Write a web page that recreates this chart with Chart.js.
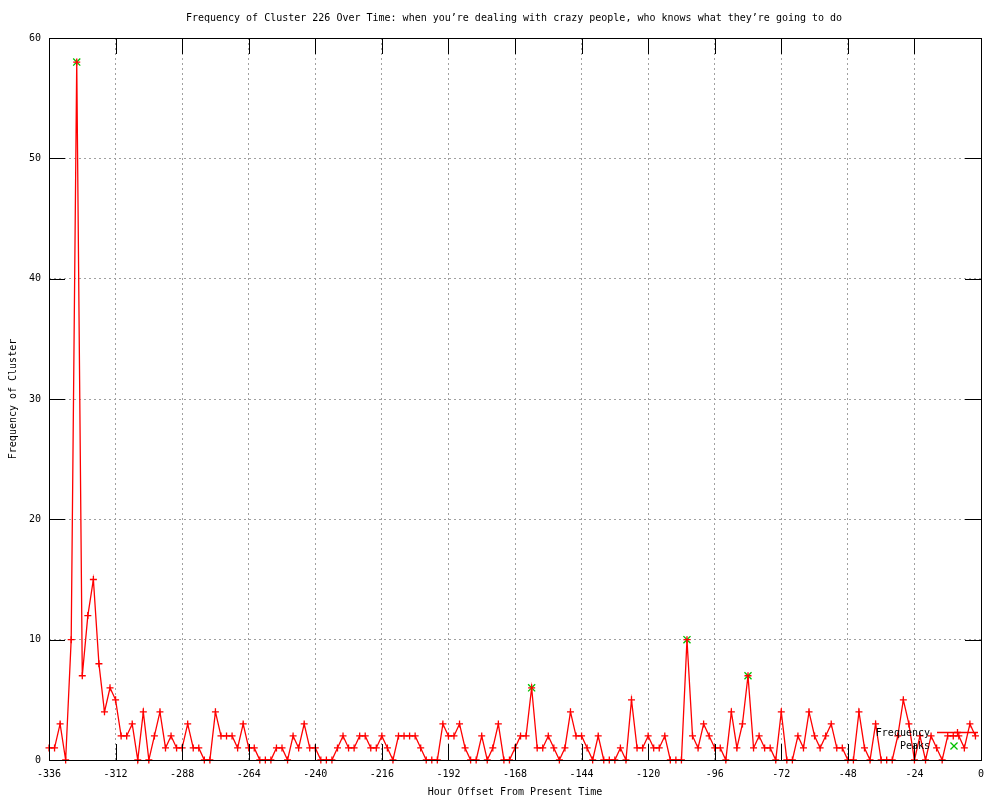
<!DOCTYPE html>
<html>
<head>
<meta charset="utf-8">
<title>Frequency of Cluster 226 Over Time</title>
<script src="https://cdn.jsdelivr.net/npm/chart.js@4.4.1/dist/chart.umd.min.js"></script>
<style>
  html, body { margin: 0; padding: 0; background: #fff; }
  #chart { display: block; }
</style>
</head>
<body>
<canvas id="chart" width="1000" height="800"></canvas>
<script>
// one sample every 2 hours, counted back from now
const hours = [
  -336, -334, -332, -330, -328, -326, -324, -322, -320, -318,
  -316, -314, -312, -310, -308, -306, -304, -302, -300, -298,
  -296, -294, -292, -290, -288, -286, -284, -282, -280, -278,
  -276, -274, -272, -270, -268, -266, -264, -262, -260, -258,
  -256, -254, -252, -250, -248, -246, -244, -242, -240, -238,
  -236, -234, -232, -230, -228, -226, -224, -222, -220, -218,
  -216, -214, -212, -210, -208, -206, -204, -202, -200, -198,
  -196, -194, -192, -190, -188, -186, -184, -182, -180, -178,
  -176, -174, -172, -170, -168, -166, -164, -162, -160, -158,
  -156, -154, -152, -150, -148, -146, -144, -142, -140, -138,
  -136, -134, -132, -130, -128, -126, -124, -122, -120, -118,
  -116, -114, -112, -110, -108, -106, -104, -102, -100, -98,
  -96, -94, -92, -90, -88, -86, -84, -82, -80, -78,
  -76, -74, -72, -70, -68, -66, -64, -62, -60, -58,
  -56, -54, -52, -50, -48, -46, -44, -42, -40, -38,
  -36, -34, -32, -30, -28, -26, -24, -22, -20, -18,
  -16, -14, -12, -10, -8, -6, -4, -2
];

const frequency = [
  1, 1, 3, 0, 10, 58, 7, 12, 15, 8,
  4, 6, 5, 2, 2, 3, 0, 4, 0, 2,
  4, 1, 2, 1, 1, 3, 1, 1, 0, 0,
  4, 2, 2, 2, 1, 3, 1, 1, 0, 0,
  0, 1, 1, 0, 2, 1, 3, 1, 1, 0,
  0, 0, 1, 2, 1, 1, 2, 2, 1, 1,
  2, 1, 0, 2, 2, 2, 2, 1, 0, 0,
  0, 3, 2, 2, 3, 1, 0, 0, 2, 0,
  1, 3, 0, 0, 1, 2, 2, 6, 1, 1,
  2, 1, 0, 1, 4, 2, 2, 1, 0, 2,
  0, 0, 0, 1, 0, 5, 1, 1, 2, 1,
  1, 2, 0, 0, 0, 10, 2, 1, 3, 2,
  1, 1, 0, 4, 1, 3, 7, 1, 2, 1,
  1, 0, 4, 0, 0, 2, 1, 4, 2, 1,
  2, 3, 1, 1, 0, 0, 4, 1, 0, 3,
  0, 0, 0, 2, 5, 3, 0, 2, 0, 2,
  1, 0, 2, 2, 2, 1, 3, 2
];

const peakHours = [-326, -162, -106, -84];
const peakValues = [58, 6, 10, 7];

const TITLE = 'Frequency of Cluster 226 Over Time: when you\u2019re dealing with crazy people, who knows what they\u2019re going to do';
const RED = '#ff0000';
const GREEN = '#00c000';
const MONO = '"DejaVu Sans Mono", "Liberation Mono", monospace';
const TIC = 16;

Chart.defaults.font.family = MONO;
Chart.defaults.font.size = 10;
Chart.defaults.color = '#000';

// gnuplot look: frame, inward tics on all four sides, title, legend inside
const gnuplotDecor = {
  id: 'gnuplotDecor',
  afterDatasetsDraw(chart) {
    const { ctx, chartArea: a, scales: { x, y } } = chart;
    ctx.save();
    ctx.strokeStyle = '#000';
    ctx.lineWidth = 1;
    ctx.beginPath();
    x.ticks.forEach(t => {
      const px = Math.round(x.getPixelForValue(t.value)) + 0.5;
      ctx.moveTo(px, a.bottom); ctx.lineTo(px, a.bottom - TIC);
      ctx.moveTo(px, a.top); ctx.lineTo(px, a.top + TIC);
    });
    y.ticks.forEach(t => {
      const py = Math.round(y.getPixelForValue(t.value)) + 0.5;
      ctx.moveTo(a.left, py); ctx.lineTo(a.left + TIC, py);
      ctx.moveTo(a.right, py); ctx.lineTo(a.right - TIC, py);
    });
    ctx.stroke();
    ctx.strokeRect(a.left + 0.5, a.top + 0.5, a.right - a.left, a.bottom - a.top);
    ctx.restore();
  },
  afterDraw(chart) {
    const ctx = chart.ctx;
    ctx.save();
    ctx.fillStyle = '#000';
    ctx.font = '10px ' + MONO;
    ctx.textBaseline = 'middle';
    ctx.textAlign = 'center';
    ctx.fillText(TITLE, 514, 18);

    // key
    ctx.textAlign = 'right';
    ctx.fillText('Frequency', 930, 733);
    ctx.fillText('Peaks', 930, 746);
    ctx.strokeStyle = RED;
    ctx.lineWidth = 1.3;
    ctx.beginPath();
    ctx.moveTo(937, 732.5);
    ctx.lineTo(978, 732.5);
    ctx.stroke();
    Chart.helpers.drawPoint(ctx, { pointStyle: 'cross', radius: 3.5, borderWidth: 1.3, rotation: 0 }, 957.5, 732.5);
    ctx.strokeStyle = GREEN;
    Chart.helpers.drawPoint(ctx, { pointStyle: 'crossRot', radius: 5, borderWidth: 1.3, rotation: 0 }, 954, 746);
    ctx.restore();
  }
};

new Chart(document.getElementById('chart'), {
  type: 'line',
  data: {
    datasets: [
      {
        label: 'Frequency',
        data: hours.map((h, i) => ({ x: h, y: frequency[i] })),
        borderColor: RED,
        borderWidth: 1.3,
        tension: 0,
        fill: false,
        clip: false,
        pointStyle: 'cross',
        pointRadius: 3.5,
        pointBorderColor: RED,
        pointBorderWidth: 1.3
      },
      {
        label: 'Peaks',
        data: peakHours.map((h, i) => ({ x: h, y: peakValues[i] })),
        showLine: false,
        borderColor: GREEN,
        clip: false,
        pointStyle: 'crossRot',
        pointRadius: 5,
        pointBorderColor: GREEN,
        pointBorderWidth: 1.3
      }
    ]
  },
  options: {
    responsive: false,
    animation: false,
    events: [],
    layout: { padding: { top: 38, right: 19, left: 0, bottom: 0 } },
    plugins: {
      legend: { display: false },
      tooltip: { enabled: false },
      title: { display: false }
    },
    scales: {
      x: {
        type: 'linear',
        min: -336,
        max: 0,
        ticks: { stepSize: 24, autoSkip: false, maxRotation: 0, padding: 8 },
        grid: { color: '#a0a0a0', lineWidth: 1, drawTicks: false },
        border: { display: false, dash: [2, 3] },
        title: { display: true, text: 'Hour Offset From Present Time', padding: { top: 0, bottom: 2 } },
        afterFit(scale) { scale.height = 40; }
      },
      y: {
        min: 0,
        max: 60,
        ticks: { stepSize: 10, padding: 8 },
        grid: { color: '#a0a0a0', lineWidth: 1, drawTicks: false },
        border: { display: false, dash: [2, 3] },
        title: { display: true, text: 'Frequency of Cluster', padding: { top: 7, bottom: 0 } },
        afterFit(scale) { scale.width = 49; }
      }
    }
  },
  plugins: [gnuplotDecor]
});
</script>
</body>
</html>
